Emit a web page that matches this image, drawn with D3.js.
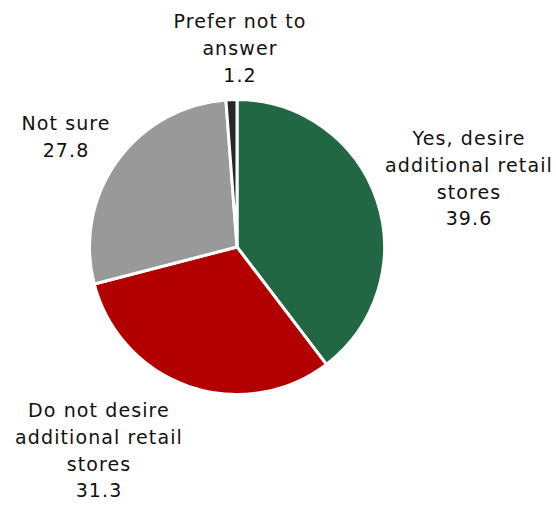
<!DOCTYPE html>
<html>
<head>
<meta charset="utf-8">
<script src="https://cdn.jsdelivr.net/npm/d3@7"></script>
<style>
  html, body { margin: 0; padding: 0; background: #fff; }
  svg { display: block; }
  text { font-family: "DejaVu Sans", Verdana, sans-serif; font-size: 19px; letter-spacing: 1.1px; fill: #111; }
</style>
</head>
<body>
<svg id="chart" width="556" height="509"></svg>
<script>
// Survey answers, in drawing order (clockwise from 12 o'clock)
const categories = [
  "Yes, desire additional retail stores",
  "Do not desire additional retail stores",
  "Not sure",
  "Prefer not to answer"
];
const values = [39.6, 31.3, 27.8, 1.2];
const labelLines = [
  ["Yes, desire", "additional retail", "stores"],
  ["Do not desire", "additional retail", "stores"],
  ["Not sure"],
  ["Prefer not to", "answer"]
];
const colors = ["#226744", "#b20000", "#999999", "#262626"];

// Label anchor (centre x, first baseline y) per slice
const labelAnchors = [[469, 145], [99, 417], [66, 130], [240, 28]];

const width = 556, height = 509;
const cx = 237, cy = 247, radius = 147.5;
const lineHeight = 26.8;

const svg = d3.select("#chart");
const data = categories.map((c, i) => ({ category: c, value: values[i], lines: labelLines[i], color: colors[i], anchor: labelAnchors[i] }));

const pie = d3.pie().sort(null).value(d => d.value);
const arc = d3.arc().innerRadius(0).outerRadius(radius);

const g = svg.append("g").attr("transform", `translate(${cx},${cy})`);
g.selectAll("path")
  .data(pie(data))
  .join("path")
  .attr("d", arc)
  .attr("fill", d => d.data.color)
  .attr("stroke", "#fff")
  .attr("stroke-width", 3)
  .attr("stroke-linejoin", "round");

const labels = svg.selectAll("text.lbl")
  .data(data)
  .join("text")
  .attr("class", "lbl")
  .attr("text-anchor", "middle")
  .attr("x", d => d.anchor[0])
  .attr("y", d => d.anchor[1]);

labels.each(function(d) {
  const t = d3.select(this);
  const lines = d.lines.concat([d3.format(".1f")(d.value)]);
  lines.forEach((ln, i) => {
    t.append("tspan")
      .attr("x", d.anchor[0])
      .attr("dy", i === 0 ? 0 : lineHeight)
      .text(ln);
  });
});
</script>
</body>
</html>
